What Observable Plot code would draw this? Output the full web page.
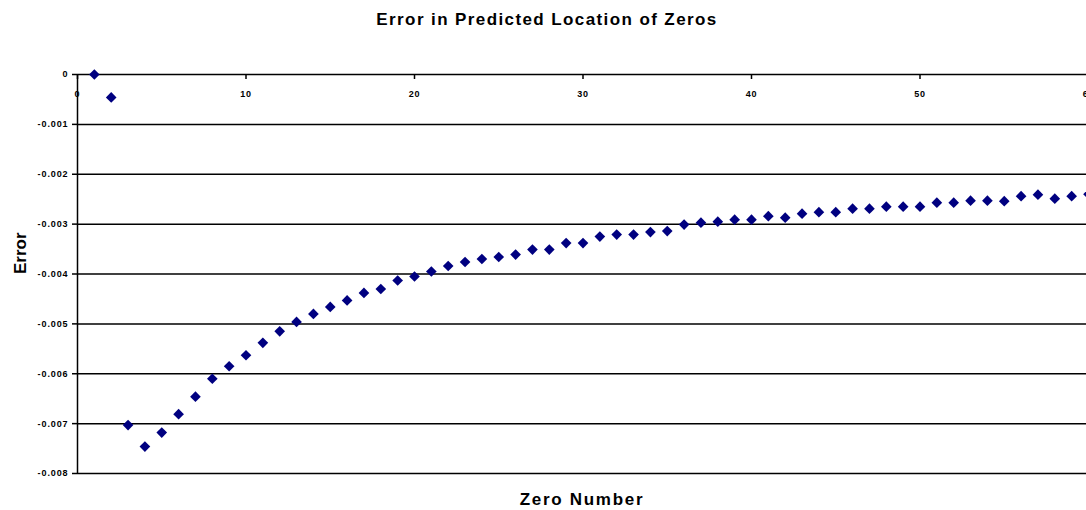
<!DOCTYPE html>
<html>
<head>
<meta charset="utf-8">
<script src="https://cdn.jsdelivr.net/npm/d3@7"></script>
<script src="https://cdn.jsdelivr.net/npm/@observablehq/plot@0.6"></script>
<style>
  html, body { margin: 0; padding: 0; background: #fff; }
  #chart svg { display: block; }
  .title-text text { letter-spacing: 1.4px; }
  .xlabel-text text { letter-spacing: 1.7px; }
  .xtick-text text { letter-spacing: 0.8px; }
  #chart g[aria-label="y-axis tick label"] text { letter-spacing: 0.9px; }
</style>
</head>
<body>
<div id="chart"></div>
<script>
const titleText = "Error in Predicted Location of Zeros";
const xLabelText = "Zero Number";
const yLabelText = "Error";

const zeroNumber = [
  1, 2, 3, 4, 5, 6, 7, 8, 9, 10,
  11, 12, 13, 14, 15, 16, 17, 18, 19, 20,
  21, 22, 23, 24, 25, 26, 27, 28, 29, 30,
  31, 32, 33, 34, 35, 36, 37, 38, 39, 40,
  41, 42, 43, 44, 45, 46, 47, 48, 49, 50,
  51, 52, 53, 54, 55, 56, 57, 58, 59, 60
];
const errorValues = [
  0, -0.00046, -0.00703, -0.00746, -0.00718, -0.00681, -0.00646, -0.0061, -0.00585, -0.00563,
  -0.00538, -0.00515, -0.00496, -0.0048, -0.00466, -0.00453, -0.00438, -0.0043, -0.00413, -0.00405,
  -0.00395, -0.00384, -0.00376, -0.0037, -0.00366, -0.00361, -0.00351, -0.00351, -0.00338, -0.00338,
  -0.00325, -0.00321, -0.00321, -0.00316, -0.00314, -0.00301, -0.00297, -0.00295, -0.00291, -0.00291,
  -0.00284, -0.00287, -0.00279, -0.00276, -0.00276, -0.00269, -0.00269, -0.00265, -0.00265, -0.00265,
  -0.00257, -0.00257, -0.00253, -0.00253, -0.00254, -0.00244, -0.00241, -0.00249, -0.00244, -0.0024
];

const xTicks = [0, 10, 20, 30, 40, 50, 60];
const xTickLabels = ["0", "10", "20", "30", "40", "50", "60"];
const yTicks = [0, -0.001, -0.002, -0.003, -0.004, -0.005, -0.006, -0.007, -0.008];
const yTickLabels = ["0", "-0.001", "-0.002", "-0.003", "-0.004", "-0.005", "-0.006", "-0.007", "-0.008"];

const data = zeroNumber.map((n, i) => ({n, err: errorValues[i]}));

const font = "'Liberation Sans', Arial, sans-serif";

const chart = Plot.plot({
  width: 1086,
  height: 510,
  marginTop: 74,
  marginBottom: 37,
  marginLeft: 77,
  marginRight: 0,
  style: {fontFamily: font, background: "#fff", color: "#000"},
  x: {domain: [0, 60], range: [77, 1088]},
  y: {domain: [-0.008, 0], range: [473, 74]},
  marks: [
    Plot.ruleY(yTicks, {y: d => d, stroke: "#000", strokeWidth: 1.5}),
    Plot.ruleX([0], {x: d => d, stroke: "#000", strokeWidth: 1.5}),
    Plot.axisY(yTicks, {
      anchor: "left", tickSize: 5, tickPadding: 4, label: null,
      tickFormat: d => yTickLabels[yTicks.indexOf(d)],
      fontSize: 9, fontWeight: "bold", strokeWidth: 1.5
    }),
    Plot.axisX(xTicks, {
      anchor: "top", tickSize: -4, label: null, tickFormat: () => "", strokeWidth: 1.5
    }),
    Plot.text(xTicks, {
      x: d => d, frameAnchor: "top", dy: 16, lineAnchor: "top",
      text: d => xTickLabels[xTicks.indexOf(d)],
      fontSize: 9, fontWeight: "bold", fill: "#000", className: "xtick-text"
    }),
    Plot.dot(data, {
      x: "n", y: "err", symbol: "diamond2", r: 4.8, fill: "#000080", stroke: "none"
    }),
    Plot.text([titleText], {
      frameAnchor: "top", dx: -35, dy: -62, lineAnchor: "top",
      fontSize: 17, fontWeight: "bold", fill: "#000", className: "title-text"
    }),
    Plot.text([xLabelText], {
      frameAnchor: "bottom", dy: 19, lineAnchor: "top",
      fontSize: 17, fontWeight: "bold", fill: "#000", className: "xlabel-text"
    }),
    Plot.text([yLabelText], {
      frameAnchor: "left", dx: -57, rotate: -90,
      fontSize: 17, fontWeight: "bold", fill: "#000"
    })
  ]
});

document.getElementById("chart").appendChild(chart);
</script>
</body>
</html>
